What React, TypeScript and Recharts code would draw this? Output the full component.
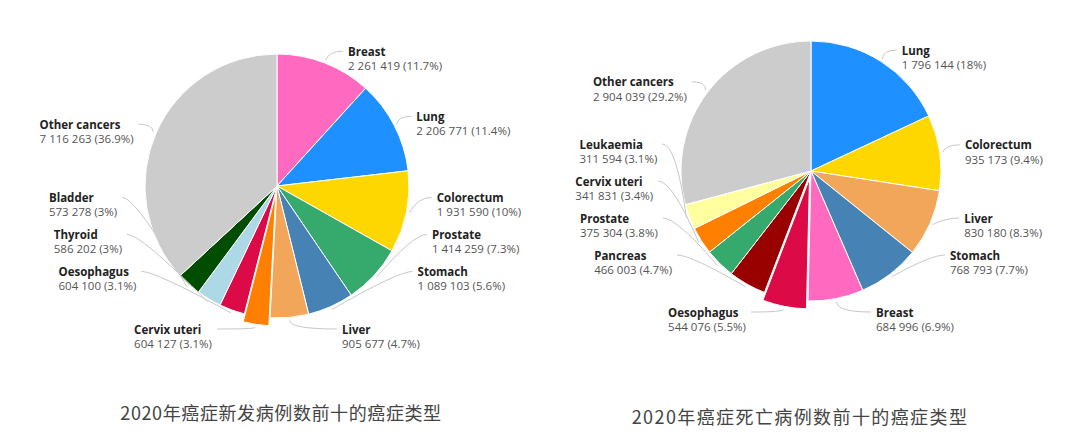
import React from 'react';
import { PieChart, Pie, Cell } from 'recharts';

// 2020 new cases (left)
const newCategories = ['Breast', 'Lung', 'Colorectum', 'Prostate', 'Stomach', 'Liver', 'Cervix uteri', 'Oesophagus', 'Thyroid', 'Bladder', 'Other cancers'];
const newCases = [2261419, 2206771, 1931590, 1414259, 1089103, 905677, 604127, 604100, 586202, 573278, 7116263];
const newColors = ['#FF69C0', '#1E90FF', '#FFD700', '#36A96C', '#4682B4', '#F2A65A', '#FF7F00', '#DC0A46', '#ADD8E6', '#004D00', '#CCCCCC'];

// 2020 deaths (right)
const deathCategories = ['Lung', 'Colorectum', 'Liver', 'Stomach', 'Breast', 'Oesophagus', 'Pancreas', 'Prostate', 'Cervix uteri', 'Leukaemia', 'Other cancers'];
const deathCases = [1796144, 935173, 830180, 768793, 684996, 544076, 466003, 375304, 341831, 311594, 2904039];
const deathColors = ['#1E90FF', '#FFD700', '#F2A65A', '#4682B4', '#FF69C0', '#DC0A46', '#990000', '#36A96C', '#FF7F00', '#FFFFA0', '#CCCCCC'];

const leftTitle = '2020年癌症新发病例数前十的癌症类型';
const rightTitle = '2020年癌症死亡病例数前十的癌症类型';

const FONT = '"Open Sans", "Noto Sans", sans-serif';
const FS = 11.5;
const EXPLODE = 8;

let ctx: CanvasRenderingContext2D | null = null;
function textWidth(s: string, bold: boolean) {
  if (!ctx) ctx = document.createElement('canvas').getContext('2d');
  if (!ctx) return s.length * 6;
  ctx.font = `${bold ? 'bold ' : ''}${FS}px "Open Sans"`;
  return ctx.measureText(s).width;
}

const fmt = (v: number) => v.toLocaleString('en-US').replace(/,/g, ' ');

function buildData(names: string[], values: number[]) {
  const total = values.reduce((a, b) => a + b, 0);
  return names.map((name, i) => ({
    name,
    value: values[i],
    text: `${fmt(values[i])} (${Math.round((values[i] / total) * 1000) / 10}%)`,
  }));
}

type Lbl = {
  name: string; text: string; x: number; y: number; ex: number; kx: number; sx: number; sy: number;
};

// power-bi like label layout: side labels stacked upward, bottom labels in one row
function layout(data: { name: string; text: string; value: number }[], cx: number, cy: number, r: number, explode: number): Lbl[] {
  const total = data.reduce((a, d) => a + d.value, 0);
  let acc = 0;
  const items = data.map((d, i) => {
    const a0 = (acc / total) * 360;
    acc += d.value;
    const a1 = (acc / total) * 360;
    const mid = (a0 + a1) / 2;
    const rad = (mid * Math.PI) / 180;
    const ux = Math.sin(rad);
    const uy = -Math.cos(rad);
    const sh = i === explode ? EXPLODE : 0;
    return {
      d, ux, uy, sh,
      side: mid < 180 ? 1 : -1,
      bottom: Math.abs(mid - 180) < 15,
      ny: cy + uy * (r + 5),
      y: 0,
    };
  });
  for (const side of [1, -1]) {
    const group = items.filter((it) => !it.bottom && it.side === side).sort((a, b) => b.ny - a.ny);
    let limit = cy + r * 0.7;
    for (const it of group) {
      it.y = Math.min(it.ny, limit);
      limit = it.y - 37;
    }
  }
  items.filter((it) => it.bottom).forEach((it) => { it.y = cy + r + 18; });

  return items.map((it) => {
    const dy = it.y - cy;
    const R = r + 27 + 0.1 * dy;
    const off = it.bottom ? 65 : Math.sqrt(Math.max(0, R * R - dy * dy));
    const bw = Math.max(textWidth(it.d.name, true), textWidth(it.d.text, false));
    const x = it.side > 0 ? cx + off : cx - off - bw;
    const ex = it.side > 0 ? cx + off - 5 : cx - off + 5;
    const sx = cx + it.ux * (r + 3 + it.sh);
    const sy = cy + it.uy * (r + 3 + it.sh);
    const kx = it.bottom ? sx : ex - 14 * it.side;
    return { name: it.d.name, text: it.d.text, x, y: it.y, ex, kx, sx, sy };
  });
}

const renderLabel = (labels: Lbl[]) => (props: any) => {
  const l = labels[props.index];
  if (!l) return null;
  const ey = l.y - 7;
  return (
    <g key={`l-${props.index}`}>
      <path d={`M${l.sx},${l.sy} Q${l.kx},${ey} ${l.ex},${ey}`} fill="none" stroke="#C8C8C8" strokeWidth={1} />
      <text x={l.x} y={l.y - 7} dominantBaseline="central" fontFamily={FONT} fontSize={FS} fontWeight="bold" fill="#222222">
        {l.name}
      </text>
      <text x={l.x} y={l.y + 7.5} dominantBaseline="central" fontFamily={FONT} fontSize={FS} fill="#555555">
        {l.text}
      </text>
    </g>
  );
};

const LEFT = { cx: 277, cy: 186, r: 132, explode: 6 };
const RIGHT = { cx: 811, cy: 171, r: 130, explode: 5 };

function shift(data: { value: number }[], idx: number) {
  const total = data.reduce((a, d) => a + d.value, 0);
  const before = data.slice(0, idx).reduce((a, d) => a + d.value, 0);
  const mid = ((before + data[idx].value / 2) / total) * 2 * Math.PI;
  return { dx: Math.sin(mid) * EXPLODE, dy: -Math.cos(mid) * EXPLODE };
}

export default function App() {
  const newData = buildData(newCategories, newCases);
  const deathData = buildData(deathCategories, deathCases);
  const newLabels = layout(newData, LEFT.cx, LEFT.cy, LEFT.r, LEFT.explode);
  const deathLabels = layout(deathData, RIGHT.cx, RIGHT.cy, RIGHT.r, RIGHT.explode);
  const ls = shift(newData, LEFT.explode);
  const rs = shift(deathData, RIGHT.explode);

  const titleStyle: React.CSSProperties = {
    position: 'absolute',
    fontFamily: '"Noto Sans CJK SC", sans-serif',
    fontSize: 18,
    color: '#444444',
    whiteSpace: 'nowrap',
    transform: 'translate(-50%, -50%)',
  };

  return (
    <div style={{ position: 'absolute', left: 0, top: 0, width: 1080, height: 439, background: '#fff' }}>
      <PieChart width={1080} height={439} margin={{ top: 0, right: 0, bottom: 0, left: 0 }}>
        <Pie data={newData} dataKey="value" nameKey="name" cx={LEFT.cx} cy={LEFT.cy} outerRadius={LEFT.r}
          startAngle={90} endAngle={-270} isAnimationActive={false} labelLine={false} label={renderLabel(newLabels)}>
          {newData.map((d, i) => (
            <Cell key={d.name} fill={i === LEFT.explode ? 'transparent' : newColors[i]} stroke={i === LEFT.explode ? 'none' : '#fff'} strokeWidth={1} />
          ))}
        </Pie>
        <Pie data={newData} dataKey="value" nameKey="name" cx={LEFT.cx + ls.dx} cy={LEFT.cy + ls.dy} outerRadius={LEFT.r}
          startAngle={90} endAngle={-270} isAnimationActive={false} label={false} labelLine={false}>
          {newData.map((d, i) => (
            <Cell key={d.name} fill={i === LEFT.explode ? newColors[i] : 'transparent'} stroke={i === LEFT.explode ? '#fff' : 'none'} strokeWidth={1} />
          ))}
        </Pie>
        <Pie data={deathData} dataKey="value" nameKey="name" cx={RIGHT.cx} cy={RIGHT.cy} outerRadius={RIGHT.r}
          startAngle={90} endAngle={-270} isAnimationActive={false} labelLine={false} label={renderLabel(deathLabels)}>
          {deathData.map((d, i) => (
            <Cell key={d.name} fill={i === RIGHT.explode ? 'transparent' : deathColors[i]} stroke={i === RIGHT.explode ? 'none' : '#fff'} strokeWidth={1} />
          ))}
        </Pie>
        <Pie data={deathData} dataKey="value" nameKey="name" cx={RIGHT.cx + rs.dx} cy={RIGHT.cy + rs.dy} outerRadius={RIGHT.r}
          startAngle={90} endAngle={-270} isAnimationActive={false} label={false} labelLine={false}>
          {deathData.map((d, i) => (
            <Cell key={d.name} fill={i === RIGHT.explode ? deathColors[i] : 'transparent'} stroke={i === RIGHT.explode ? '#fff' : 'none'} strokeWidth={1} />
          ))}
        </Pie>
      </PieChart>
      <div style={{ ...titleStyle, left: 281, top: 412, letterSpacing: 0.6 }}>{leftTitle}</div>
      <div style={{ ...titleStyle, left: 800, top: 416, letterSpacing: 1.4 }}>{rightTitle}</div>
    </div>
  );
}
